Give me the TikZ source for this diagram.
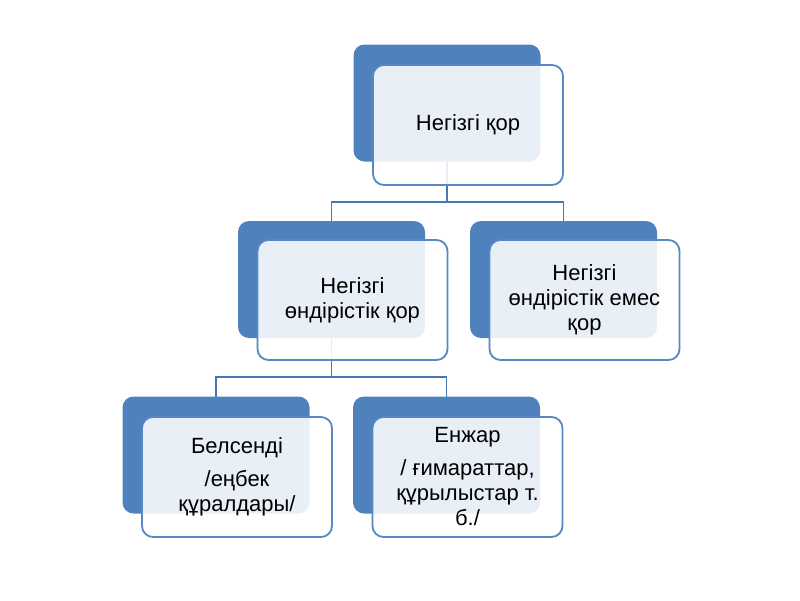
\documentclass[tikz,border=0pt]{standalone}
\usepackage{fontspec}
\setmainfont{Liberation Sans}
\usetikzlibrary{backgrounds}
\definecolor{blueA}{RGB}{79,129,189}
\definecolor{blueB}{RGB}{88,136,196}
\definecolor{lineC}{RGB}{72,120,180}
\begin{document}
\begin{tikzpicture}[x=1pt,y=-1pt,
  back/.style={fill=blueA, draw=none, rounded corners=11pt, inner sep=0pt,
    minimum width=187pt, minimum height=117pt},
  front/.style={fill=white, fill opacity=0.88, text opacity=1, draw=blueB,
    draw opacity=1, line width=1.8pt, rounded corners=11pt, inner sep=0pt,
    minimum width=190pt, minimum height=120pt, align=center,
    font=\fontsize{22}{25}\selectfont},
  conn/.style={draw=lineC, line width=1.8pt}]
\useasboundingbox (0,0) rectangle (800,600);
% back boxes
\node[back] (b1) at (447,103) {};
\node[back] (b2) at (331.5,279.5) {};
\node[back] (b3) at (563.5,279.5) {};
\node[back] (b4) at (216,455) {};
\node[back] (b5) at (446.5,455) {};
% front boxes
\node[front] (f1) at (468,125) {Негізгі қор};
\node[front] (f2) at (352.5,300) {Негізгі\\өндірістік қор};
\node[front] (f3) at (584.5,300) {Негізгі\\өндірістік емес\\қор};
\node[front] (f4) at (237,477) {Белсенді\\[8pt]/еңбек\\құралдары/};
\node[front] (f5) at (467.5,477) {Енжар\\[8pt]/ ғимараттар,\\құрылыстар т.\\б./};
% connectors
\begin{scope}[on background layer]
\coordinate (bus1) at (447,202);
\coordinate (bus2) at (331.5,377);
\draw[conn] (b1.center) -- (bus1) -| (b2.center);
\draw[conn] (bus1) -| (b3.center);
\draw[conn] (b2.center) -- (bus2) -| (b4.center);
\draw[conn] (bus2) -| (b5.center);
\end{scope}
\end{tikzpicture}
\end{document}
